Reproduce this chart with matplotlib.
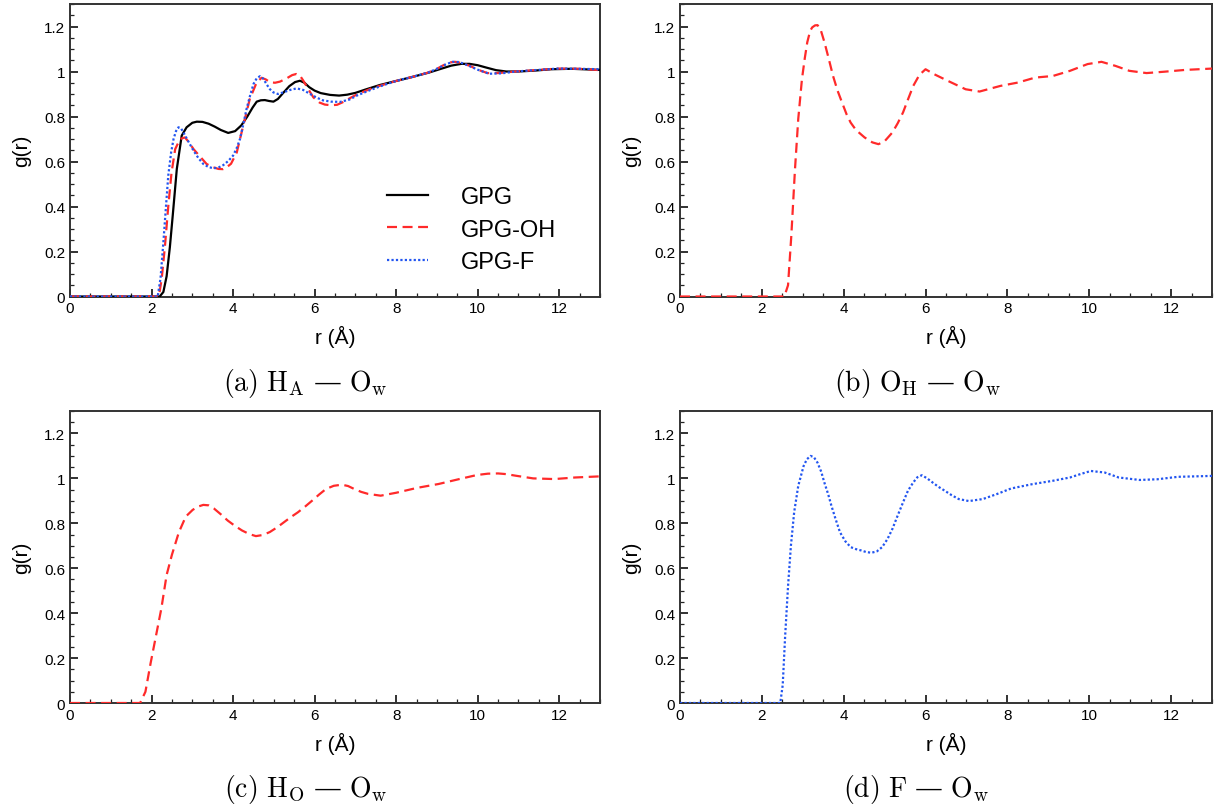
import matplotlib
matplotlib.use("Agg")
import matplotlib.pyplot as plt
from matplotlib.ticker import MultipleLocator, FormatStrFormatter

plt.rcParams['font.family'] = ['Liberation Sans', 'DejaVu Sans']
plt.rcParams['mathtext.fontset'] = 'cm'

# ---- data ----
# (a) H_A - O_w
r_gpg = [0, 2.2, 2.29, 2.37, 2.45, 2.52, 2.62, 2.74, 2.86, 3.0, 3.11, 3.25, 3.4, 3.55, 3.7, 3.88,
         4.05, 4.2, 4.35, 4.48, 4.58, 4.68, 4.78, 4.88, 4.99, 5.1, 5.23, 5.38, 5.52, 5.64, 5.75,
         5.87, 6.0, 6.15, 6.38, 6.6, 6.8, 7.0, 7.25, 7.6, 8.0, 8.4, 8.8, 9.1, 9.35, 9.6, 9.8,
         10.0, 10.2, 10.45, 10.7, 11.0, 11.4, 11.8, 12.3, 13.0]
g_gpg = [0, 0, 0.02, 0.09, 0.22, 0.36, 0.567, 0.715, 0.752, 0.772, 0.777, 0.776, 0.768, 0.755,
         0.74, 0.727, 0.735, 0.76, 0.8, 0.84, 0.866, 0.872, 0.873, 0.869, 0.866, 0.878, 0.905,
         0.935, 0.953, 0.959, 0.95, 0.93, 0.915, 0.904, 0.896, 0.893, 0.897, 0.905, 0.92, 0.94,
         0.958, 0.976, 0.995, 1.012, 1.026, 1.034, 1.034, 1.028, 1.018, 1.006, 1.0, 1.0, 1.004,
         1.01, 1.012, 1.007]

r_oh = [0, 2.18, 2.25, 2.33, 2.41, 2.49, 2.58, 2.7, 2.82, 2.92, 3.03, 3.2, 3.35, 3.5, 3.64, 3.75,
        3.84, 3.95, 4.09, 4.25, 4.41, 4.58, 4.7, 4.8, 4.91, 5.03, 5.15, 5.3, 5.45, 5.55, 5.64,
        5.72, 5.85, 5.97, 6.12, 6.25, 6.4, 6.55, 6.71, 6.9, 7.06, 7.4, 7.7, 8.0, 8.4, 8.78, 9.0,
        9.15, 9.3, 9.45, 9.6, 9.81, 10.0, 10.24, 10.5, 10.93, 11.4, 11.96, 12.5, 13.0]
g_oh = [0, 0, 0.08, 0.226, 0.40, 0.55, 0.655, 0.70, 0.707, 0.685, 0.655, 0.62, 0.589, 0.575,
        0.567, 0.566, 0.574, 0.59, 0.64, 0.76, 0.878, 0.952, 0.972, 0.965, 0.952, 0.95, 0.955,
        0.968, 0.984, 0.989, 0.982, 0.96, 0.92, 0.885, 0.862, 0.853, 0.85, 0.852, 0.865, 0.885,
        0.9, 0.925, 0.942, 0.958, 0.976, 0.995, 1.012, 1.027, 1.04, 1.043, 1.038, 1.025, 1.008,
        0.993, 0.993, 1.0, 1.006, 1.013, 1.012, 1.006]

r_f = [0, 2.15, 2.22, 2.29, 2.35, 2.41, 2.48, 2.54, 2.6, 2.66, 2.72, 2.78, 2.9, 3.03, 3.15, 3.27,
       3.4, 3.52, 3.64, 3.76, 3.88, 4.0, 4.09, 4.17, 4.25, 4.33, 4.42, 4.5, 4.58, 4.66, 4.74,
       4.82, 4.9, 4.99, 5.1, 5.23, 5.4, 5.56, 5.72, 5.89, 6.05, 6.2, 6.4, 6.63, 6.85, 7.06, 7.4,
       7.7, 8.0, 8.4, 8.78, 9.0, 9.2, 9.38, 9.55, 9.75, 10.0, 10.28, 10.6, 10.93, 11.4, 11.96,
       12.5, 13.0]
g_f = [0, 0, 0.08, 0.24, 0.39, 0.537, 0.64, 0.70, 0.735, 0.752, 0.748, 0.73, 0.69, 0.648, 0.615,
       0.589, 0.575, 0.57, 0.573, 0.584, 0.602, 0.626, 0.66, 0.70, 0.765, 0.833, 0.895, 0.944,
       0.97, 0.979, 0.968, 0.944, 0.922, 0.907, 0.9, 0.907, 0.918, 0.925, 0.918, 0.9, 0.884,
       0.872, 0.866, 0.865, 0.875, 0.895, 0.92, 0.94, 0.958, 0.976, 0.995, 1.012, 1.03, 1.043,
       1.042, 1.028, 1.008, 0.99, 0.992, 1.0, 1.006, 1.013, 1.012, 1.01]

# (b) O_H - O_w
r_b = [0, 2.55, 2.64, 2.72, 2.81, 2.89, 2.98, 3.05, 3.11, 3.18, 3.23, 3.3, 3.36, 3.43, 3.53, 3.63,
       3.74, 3.85, 3.96, 4.07, 4.17, 4.3, 4.51, 4.7, 4.85, 5.0, 5.19, 5.32, 5.45, 5.58, 5.7, 5.85,
       6.0, 6.21, 6.55, 6.98, 7.32, 7.83, 8.26, 8.68, 9.11, 9.53, 9.96, 10.3, 10.64, 10.98, 11.4,
       11.83, 12.34, 13.0]
g_b = [0, 0, 0.05, 0.27, 0.566, 0.79, 0.966, 1.06, 1.13, 1.18, 1.196, 1.205, 1.206, 1.19, 1.13,
       1.06, 0.98, 0.915, 0.862, 0.81, 0.773, 0.74, 0.707, 0.685, 0.677, 0.69, 0.729, 0.77,
       0.818, 0.88, 0.936, 0.985, 1.01, 0.988, 0.958, 0.921, 0.911, 0.936, 0.951, 0.973, 0.98,
       1.003, 1.033, 1.043, 1.025, 1.003, 0.993, 0.999, 1.007, 1.013]

# (c) H_O - O_w
r_c = [0, 1.72, 1.85, 1.98, 2.11, 2.24, 2.37, 2.5, 2.67, 2.84, 3.01, 3.15, 3.27, 3.4, 3.53, 3.7,
       3.87, 4.05, 4.22, 4.4, 4.56, 4.73, 4.9, 5.08, 5.25, 5.42, 5.59, 5.77, 5.94, 6.11, 6.28,
       6.47, 6.67, 6.82, 6.97, 7.14, 7.31, 7.62, 8.0, 8.52, 9.04, 9.55, 9.98, 10.25, 10.5, 10.7,
       10.93, 11.36, 11.88, 12.39, 13.0]
g_c = [0, 0, 0.05, 0.18, 0.30, 0.42, 0.57, 0.66, 0.76, 0.83, 0.86, 0.875, 0.882, 0.88, 0.866,
       0.84, 0.812, 0.788, 0.768, 0.752, 0.743, 0.748, 0.761, 0.782, 0.805, 0.828, 0.849, 0.875,
       0.901, 0.928, 0.953, 0.967, 0.972, 0.966, 0.953, 0.94, 0.931, 0.923, 0.936, 0.958, 0.975,
       0.997, 1.015, 1.021, 1.022, 1.019, 1.012, 1.0, 0.997, 1.004, 1.009]

# (d) F - O_w
r_d = [0, 2.45, 2.51, 2.57, 2.64, 2.71, 2.79, 2.89, 3.02, 3.1, 3.19, 3.27, 3.36, 3.45, 3.53, 3.62,
       3.7, 3.8, 3.91, 4.04, 4.17, 4.3, 4.43, 4.55, 4.68, 4.81, 4.94, 5.07, 5.19, 5.32, 5.45,
       5.57, 5.7, 5.8, 5.91, 6.04, 6.17, 6.32, 6.47, 6.64, 6.81, 7.06, 7.4, 7.74, 8.09, 8.6, 9.1,
       9.53, 9.8, 10.04, 10.38, 10.72, 11.23, 11.66, 12.17, 13.0]
g_d = [0, 0, 0.08, 0.30, 0.52, 0.70, 0.85, 0.967, 1.055, 1.085, 1.10, 1.095, 1.07, 1.03, 0.98,
       0.93, 0.878, 0.82, 0.76, 0.72, 0.694, 0.685, 0.679, 0.672, 0.669, 0.675, 0.694, 0.73,
       0.775, 0.835, 0.893, 0.945, 0.982, 1.005, 1.014, 1.0, 0.982, 0.962, 0.945, 0.925, 0.908,
       0.899, 0.908, 0.93, 0.955, 0.974, 0.989, 1.004, 1.02, 1.033, 1.026, 1.004, 0.993, 0.996,
       1.007, 1.011]

captions = [r'$\mathrm{(a)\ H_A\ }$—$\mathrm{\ O_w}$', r'$\mathrm{(b)\ O_H\ }$—$\mathrm{\ O_w}$',
            r'$\mathrm{(c)\ H_O\ }$—$\mathrm{\ O_w}$', r'$\mathrm{(d)\ F\ }$—$\mathrm{\ O_w}$']

RED = '#ff2a2a'
BLUE = '#2255f0'
DASH = (0, (4.5, 2.5))
DOT = (0, (1, 1))

fig = plt.figure(figsize=(12.14, 8.12), dpi=100)
W, H = 1214, 812
boxes = [(70, 5, 530, 292.5), (680, 5, 532, 292.5), (70, 412, 530, 292), (680, 412, 532, 292)]
axes = []
for (x0, y0, w, h) in boxes:
    ax = fig.add_axes([x0 / W, 1 - (y0 + h) / H, w / W, h / H])
    axes.append(ax)

ax = axes[0]
ax.plot(r_gpg, g_gpg, color='black', lw=1.6, label='GPG', zorder=3)
ax.plot(r_oh, g_oh, color=RED, lw=1.6, linestyle=DASH, label='GPG-OH', zorder=3)
ax.plot(r_f, g_f, color=BLUE, lw=1.6, linestyle=DOT, label='GPG-F', zorder=3)
ax.legend(loc='upper left', bbox_to_anchor=(0.598, 0.378), frameon=False, fontsize=17,
          handlelength=1.75, labelspacing=0.45, handletextpad=1.4, borderpad=0, borderaxespad=0)

axes[1].plot(r_b, g_b, color=RED, lw=1.6, linestyle=DASH, zorder=3)
axes[2].plot(r_c, g_c, color=RED, lw=1.6, linestyle=DASH, zorder=3)
axes[3].plot(r_d, g_d, color=BLUE, lw=1.6, linestyle=DOT, zorder=3)

for ax in axes:
    ax.set_xlim(0, 13)
    ax.set_ylim(0, 1.3)
    ax.xaxis.set_major_locator(MultipleLocator(2))
    ax.xaxis.set_minor_locator(MultipleLocator(0.5))
    ax.yaxis.set_major_locator(MultipleLocator(0.2))
    ax.yaxis.set_minor_locator(MultipleLocator(0.05))
    ax.yaxis.set_major_formatter(FormatStrFormatter('%g'))
    ax.xaxis.set_major_formatter(FormatStrFormatter('%g'))
    ax.tick_params(which='both', direction='in', top=False, right=False, colors='#222222',
                   labelcolor='black', labelsize=11)
    ax.tick_params(which='major', length=6, width=1.3)
    ax.tick_params(which='minor', length=3, width=0.9)
    for s in ax.spines.values():
        s.set_color('#333333')
        s.set_linewidth(1.4)
    ax.set_xlabel('r (Å)', fontsize=15, labelpad=7)
    ax.set_ylabel('g(r)', fontsize=15, labelpad=9)

cap_pos = [(305, 383), (917, 383), (306, 790), (916, 790)]
for (cx, cy), txt in zip(cap_pos, captions):
    fig.text(cx / W, 1 - cy / H, txt, ha='center', va='center', fontsize=20,
             family=['DejaVu Serif'])

fig.savefig('out.png', dpi=100)
